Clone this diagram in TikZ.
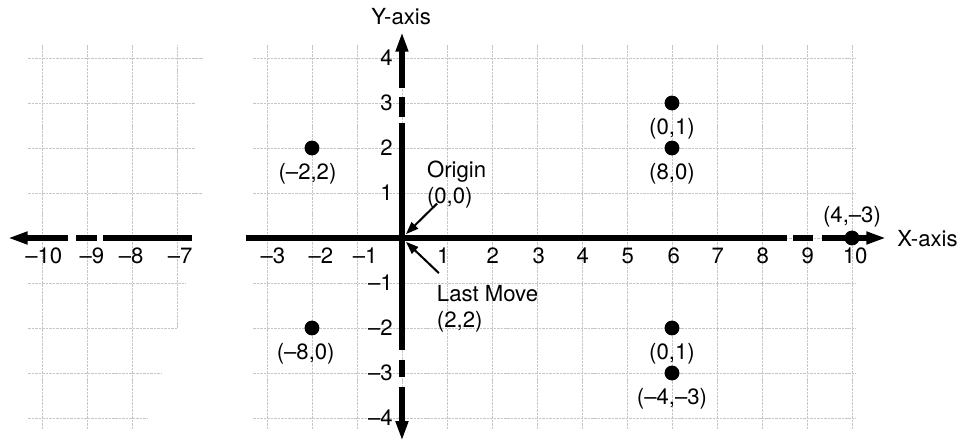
\documentclass[tikz,border=0pt]{standalone}
\usepackage{fontspec}
\setmainfont{TeX Gyre Heros}
\usetikzlibrary{positioning,arrows.meta}

\begin{document}
\begin{tikzpicture}[
    font=\fontsize{14}{16}\selectfont,
    gridline/.style={gray!45, line width=0.45pt, dash pattern=on 1.6pt off 0.6pt},
    axis/.style={line width=3.2pt, black},
    axishead/.style={-{Triangle[length=4.4mm,width=2.6mm]}},
    pt/.style={circle, fill=black, inner sep=0pt, minimum size=3.3mm},
    ptlabel/.style={inner sep=0pt},
    tick/.style={inner sep=0pt},
    ptr/.style={-{Triangle[length=2.8mm,width=2mm]}, line width=1.3pt, shorten >=3.5pt},
]
\path[use as bounding box, fill=white] (-8.933,-4.578) rectangle (12.378,5.289);

% grid, main part
\foreach \x in {-3,...,10}
    \draw[gridline] (\x,-4.25) -- (\x,4.29);
\foreach \y in {-4,...,4}
    \draw[gridline] (-3.3,\y) -- (10.1,\y);
% grid, left part
\foreach \x in {-8,-7,-6}
    \draw[gridline] (\x,-4.25) -- (\x,4.29);
\draw[gridline] (-5,-2) -- (-5,4.29);
\foreach \y/\e in {4/-4.42, 3/-4.6, 2/-4.6, 1/-4.44, -1/-4.8, -2/-5.0, -3/-5.33, -4/-5.64}
    \draw[gridline] (-8.3,\y) -- (\e,\y);

% axes
\coordinate (O) at (0,0);
\draw[axis] (-4.67,0) -- (-6.64,0);
\draw[axis] (-6.78,0) -- (-7.24,0);
\draw[axis, axishead] (-7.42,0) -- (-8.76,0);
\draw[axis] (-3.47,0) -- (8.56,0);
\draw[axis] (8.69,0) -- (9.13,0);
\draw[axis, axishead] (9.33,0) -- (10.76,0);
\draw[axis, axishead] (0,3.33) -- (0,4.58);
\draw[axis] (0,3.13) -- (0,2.69);
\draw[axis] (0,2.56) -- (0,-2.49);
\draw[axis] (0,-2.71) -- (0,-3.09);
\draw[axis, axishead] (0,-3.31) -- (0,-4.51);

\node (ylab) at (-0.02,4.93) {Y-axis};
\node[tick, anchor=west] (xlab) at (11.0,-0.02) {X-axis};

% tick labels
\foreach \x/\p in {1/0.92, 2/2.02, 3/3.04, 4/4.02, 5/5.02, 6/6.04, 7/7.02, 8/8.02, 9/9.02, 10/10.07}
    \node[tick] (xp\x) at (\p,-0.4) {\x};
\foreach \x/\p in {1/-0.82, 2/-1.8, 3/-2.87, 7/-4.93, 8/-6.02, 9/-6.89, 10/-7.96}
    \node[tick] (xn\x) at (\p,-0.4) {\textendash\x};
\foreach \y in {1,...,4}
    \node[tick, anchor=east] (yp\y) at (-0.2,\y) {\y};
\foreach \y in {1,...,4}
    \node[tick, anchor=east] (yn\y) at (-0.2,-\y) {\textendash\y};

% plotted points
\node[pt] (p1) at (-2,2) {};
\node[ptlabel, below=0.16cm of p1, xshift=-0.1cm] (l1) {(\textendash2,2)};
\node[pt] (p2) at (6,3) {};
\node[ptlabel, below=0.16cm of p2] (l2) {(0,1)};
\node[pt] (p3) at (6,2) {};
\node[ptlabel, below=0.16cm of p3] (l3) {(8,0)};
\node[pt] (p4) at (-2,-2) {};
\node[ptlabel, below=0.16cm of p4, xshift=-0.14cm] (l4) {(\textendash8,0)};
\node[pt] (p5) at (6,-2) {};
\node[ptlabel, below=0.16cm of p5] (l5) {(0,1)};
\node[pt] (p6) at (6,-3) {};
\node[ptlabel, below=0.16cm of p6] (l6) {(\textendash4,\textendash3)};
\node[pt] (p7) at (10,0) {};
\node[ptlabel, above=0.05cm of p7] (l7) {(4,\textendash3)};

% pointers to the origin
\node[ptlabel, align=left, anchor=west] (orig) at (0.55,1.19) {Origin\\(0,0)};
\node[ptlabel, align=left, anchor=west] (lastmv) at (0.77,-1.57) {Last Move\\(2,2)};
\draw[ptr] ([shift={(0.23,0.1)}]orig.south west) -- (O);
\draw[ptr] ([shift={(0.05,0.27)}]lastmv.north west) -- (O);
\end{tikzpicture}
\end{document}
